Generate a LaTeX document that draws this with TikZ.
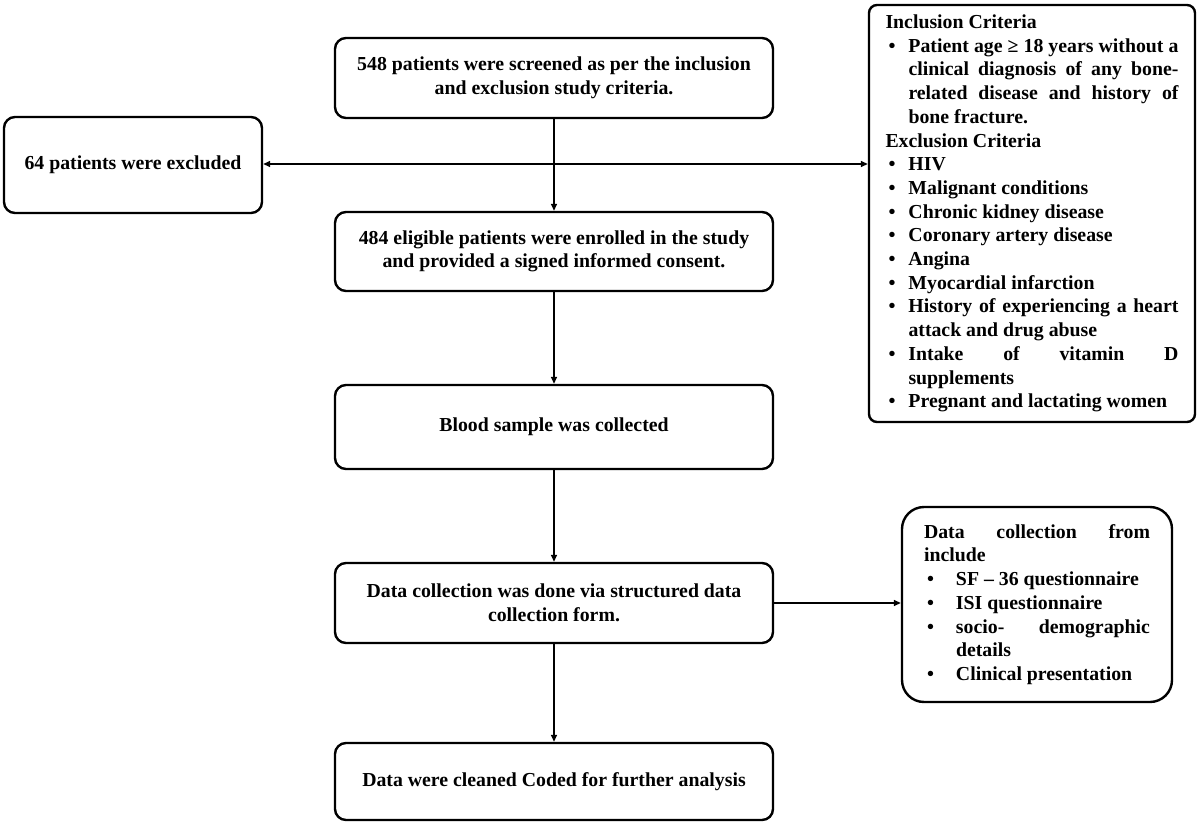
\documentclass[tikz,border=0pt]{standalone}
\usepackage{fontspec}
\setmainfont{Liberation Serif}
\usetikzlibrary{arrows.meta}
\newcommand{\bul}[1]{\par\hangindent=#1\hangafter=0\noindent\llap{\makebox[#1][l]{\hspace{3pt}•}}}
\begin{document}
\begin{tikzpicture}[x=1pt,y=-1pt,
  box/.style={draw=black,line width=2.4pt,rounded corners=11pt,align=center,inner sep=0pt,
    font=\fontsize{19.8}{23.5}\selectfont\bfseries},
  mainbox/.style={box,minimum width=438pt},
  arr/.style={line width=1.5pt,-{Triangle[length=7pt,width=6pt]}},
  listtext/.style={font=\fontsize{19.8}{23.7}\selectfont\bfseries,align=justify}]
\useasboundingbox (0,0) rectangle (1200,827);
\fill[white] (0,0) rectangle (1200,827);
\node[mainbox,minimum height=80pt] (scr) at (554,78) {548 patients were screened as per the inclusion\\and exclusion study criteria.};
\node[box,minimum width=258pt,minimum height=96pt] (excl) at (133,165) {64 patients were excluded};
\node[mainbox,minimum height=79pt] (enr) at (554,251.5) {484 eligible patients were enrolled in the study\\and provided a signed informed consent.};
\node[mainbox,minimum height=84pt] (blood) at (554,427) {Blood sample was collected};
\node[mainbox,minimum height=80pt] (dc) at (554,603) {Data collection was done via structured data\\collection form.};
\node[mainbox,minimum height=77pt] (clean) at (554,781.5) {Data were cleaned Coded for further analysis};
\node[draw=black,line width=2.4pt,rounded corners=8pt,minimum width=326pt,minimum height=417pt,
  inner sep=0pt,text width=293pt,listtext] (crit) at (1032,213.5) {%
\hyphenpenalty=10000\tolerance=10000\emergencystretch=2em
Inclusion Criteria
\bul{23pt}Patient age ≥ 18 years without a\linebreak clinical diagnosis of any bone-\linebreak related disease and history of\linebreak bone fracture.
\par\noindent Exclusion Criteria
\bul{23pt}HIV
\bul{23pt}Malignant conditions
\bul{23pt}Chronic kidney disease
\bul{23pt}Coronary artery disease
\bul{23pt}Angina
\bul{23pt}Myocardial infarction
\bul{23pt}History of experiencing a heart\linebreak attack and drug abuse
\bul{23pt}Intake of vitamin D\linebreak supplements
\bul{23pt}Pregnant and lactating women\par};
\node[draw=black,line width=2.4pt,rounded corners=22pt,minimum width=270pt,minimum height=195pt,
  inner sep=0pt,text width=226pt,listtext] (dr) at (1037,604.5) {%
\hyphenpenalty=10000\tolerance=10000\emergencystretch=2em
Data collection from\linebreak include
\bul{32pt}SF – 36 questionnaire
\bul{32pt}ISI questionnaire
\bul{32pt}socio- demographic\linebreak details
\bul{32pt}Clinical presentation\par};
\coordinate (j) at (554,164);
\draw[arr] (scr) -- (enr);
\draw[arr] (j) -- (excl.east |- j);
\draw[arr] (j) -- (crit.west |- j);
\draw[arr] (enr) -- (blood);
\draw[arr] (blood) -- (dc);
\draw[arr] (dc) -- (clean);
\draw[arr] (dc.east) -- (dc.east -| dr.west);
\end{tikzpicture}
\end{document}
